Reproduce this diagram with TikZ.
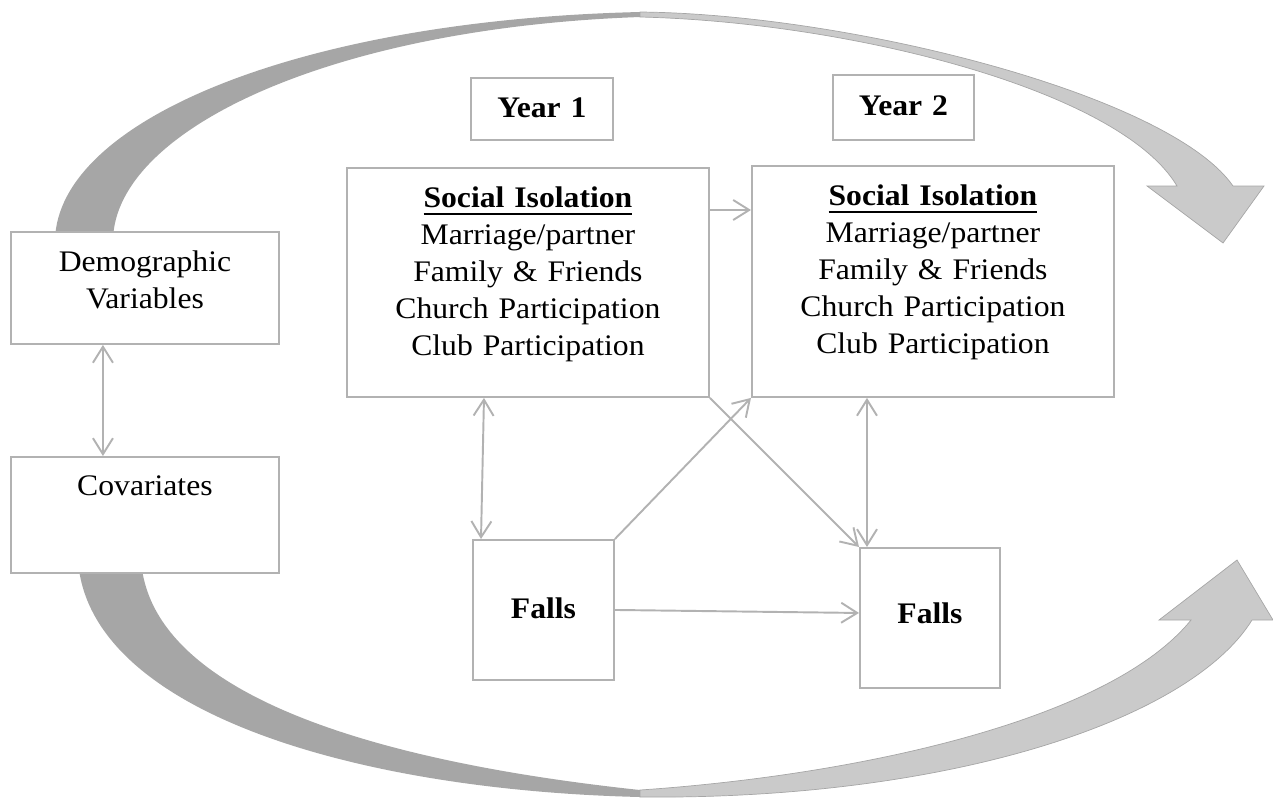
\documentclass[tikz,border=0pt]{standalone}
\usepackage{fontspec}
\setmainfont{Liberation Serif}[FakeStretch=1.06]
\usepackage{tikz}
\usetikzlibrary{arrows.meta,positioning,calc}
\definecolor{linegray}{RGB}{178,178,178}
\definecolor{backgray}{RGB}{166,166,166}
\definecolor{frontgray}{RGB}{202,202,202}
\tikzstyle{block}=[draw=linegray, line width=1.1pt, fill=white, inner sep=0pt, align=center, anchor=north west, font=\fontsize{17}{21.05}\selectfont]
\tikzstyle{link}=[draw=linegray, line width=1.1pt]
\tikzstyle{front}=[fill=frontgray, draw=backgray, line width=0.4pt]
\newsavebox\headbox
\newcommand{\headline}[1]{\sbox\headbox{\textbf{#1}}\usebox\headbox\llap{\rule[-0.14cm]{\wd\headbox}{0.045cm}}}

\begin{document}
\begin{tikzpicture}[x=0.02cm, y=-0.02cm, >={Straight Barb[length=0.32cm,width=0.4cm]}]
	\useasboundingbox (0,0) rectangle (1273,802);
	\fill[backgray] (55,240) .. controls (58,120) and (300,20) .. (640,12)
	-- (640,17) .. controls (330,28) and (115,130) .. (113,240) -- cycle;
	\filldraw[front] (640,12) .. controls (850,14) and (1170,95) .. (1233,186)
	-- (1264,186) -- (1223,243) -- (1147,186) -- (1177,186)
	.. controls (1120,90) and (850,22) .. (640,17) -- cycle;
	\fill[backgray] (78,560) .. controls (88,710) and (350,790) .. (640,797)
	-- (640,790) .. controls (360,760) and (150,690) .. (141,560) -- cycle;
	\filldraw[front] (640,797) .. controls (950,800) and (1190,720) .. (1252,620)
	-- (1273,620) -- (1237,560) -- (1159,620) -- (1191,620)
	.. controls (1110,720) and (860,775) .. (640,790) -- cycle;
	\node[block, text width=5.36cm, text height=0.8cm, text depth=1.44cm] (demo) at (10,231) {Demographic\\Variables};
	\node[block, text width=5.36cm, text height=0.78cm, text depth=1.54cm] (covar) at (10,456) {Covariates};
	\node[block, text width=2.84cm, text height=0.8cm, text depth=0.44cm] (year1) at (470,77) {\textbf{Year 1}};
	\node[block, text width=2.82cm, text height=0.82cm, text depth=0.48cm] (year2) at (832,74) {\textbf{Year 2}};
	\node[block, text width=7.24cm, text height=0.8cm, text depth=3.78cm] (iso1) at (346,167) {\headline{Social Isolation}\\Marriage/partner\\Family \& Friends\\Church Participation\\Club Participation};
	\node[block, text width=7.24cm, text height=0.8cm, text depth=3.82cm] (iso2) at (751,165) {\headline{Social Isolation}\\Marriage/partner\\Family \& Friends\\Church Participation\\Club Participation};
	\node[block, text width=2.82cm, text height=1.58cm, text depth=1.22cm] (falls1) at (472,539) {\textbf{Falls}};
	\node[block, text width=2.8cm, text height=1.52cm, text depth=1.28cm] (falls2) at (859,547) {\textbf{Falls}};
	\draw[link,<->] ([xshift=-0.84cm]demo.south) -- ([xshift=-0.84cm]covar.north);
	\draw[link,->] ([yshift=-0.86cm]iso1.north east) -- ([yshift=-0.86cm]iso1.north east -| iso2.west);
	\draw[link,<->] ([xshift=2.76cm]iso1.south west) -- ([xshift=0.18cm]falls1.north west);
	\draw[link,->] (iso1.south east) -- (falls2.north west);
	\draw[link,->] (falls1.north east) -- (iso2.south west);
	\draw[link,->] (falls1.east) -- ([yshift=0.1cm]falls2.west);
	\draw[link,<->] ([xshift=2.32cm]iso2.south west) -- ([xshift=0.16cm]falls2.north west);
\end{tikzpicture}
\end{document}
